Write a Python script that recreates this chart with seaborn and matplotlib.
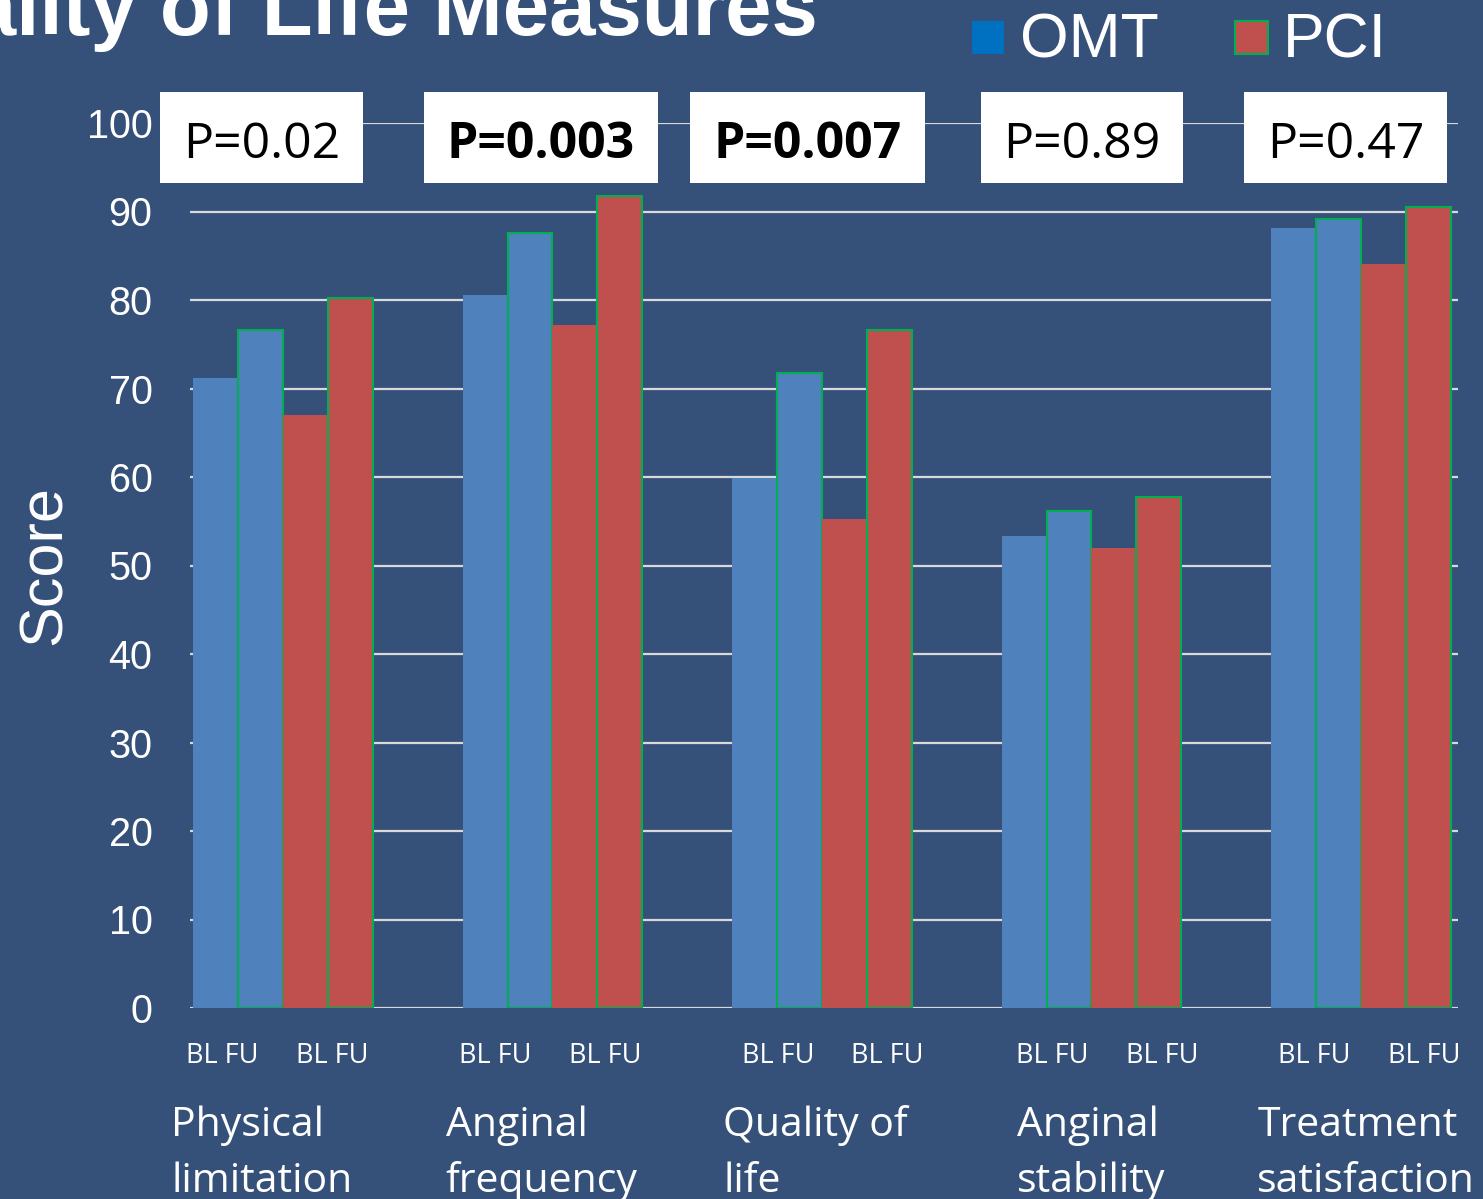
import matplotlib
matplotlib.use('Agg')
import matplotlib.pyplot as plt
from matplotlib.patches import Rectangle
import pandas as pd
import seaborn as sns

# data
measures = ["Physical\nlimitation", "Anginal\nfrequency", "Quality of\nlife",
            "Anginal\nstability", "Treatment\nsatisfaction"]
series = ["OMT BL", "OMT FU", "PCI BL", "PCI FU"]
omt_bl = [71.2, 80.6, 59.9, 53.3, 88.1]
omt_fu = [76.6, 87.6, 71.8, 56.2, 89.2]
pci_bl = [67.0, 77.2, 55.3, 52.0, 84.1]
pci_fu = [80.2, 91.8, 76.6, 57.7, 90.5]
p_values = ["P=0.02", "P=0.003", "P=0.007", "P=0.89", "P=0.47"]
p_bold = [False, True, True, False, False]
y_ticks = list(range(0, 101, 10))

# layout tweaks (offsets from category centre, data units)
label_shift = [-0.415, -0.396, -0.367, -0.278, -0.385]
pair_shift = [-0.226, -0.211, -0.163, -0.144, -0.174]
box_shift = [-0.080, -0.043, -0.054, -0.035, -0.057]

BG = "#35517A"
BLUE = "#4F81BD"
RED = "#C0504D"
GREEN = "#00B050"
SANS = ["Liberation Sans", "DejaVu Sans"]
BODY = ["Open Sans", "DejaVu Sans"]

sns.set_theme(style="white")
plt.rcParams['font.family'] = SANS

rows = []
for name, vals in zip(series, [omt_bl, omt_fu, pci_bl, pci_fu]):
    for m, v in zip(measures, vals):
        rows.append({"measure": m, "series": name, "score": v})
df = pd.DataFrame(rows)

fig = plt.figure(figsize=(14.83, 11.99), dpi=100, facecolor=BG)
ax = fig.add_axes([190 / 1483, 1 - 1008 / 1199, 1268 / 1483, 885 / 1199])
ax.set_facecolor(BG)

palette = {"OMT BL": BLUE, "OMT FU": BLUE, "PCI BL": RED, "PCI FU": RED}
sns.barplot(data=df, x="measure", y="score", hue="series", order=measures,
            hue_order=series, palette=palette, saturation=1, width=0.667,
            errorbar=None, legend=False, linewidth=0, ax=ax)

# follow-up bars carry the thin green outline
for name, cont in zip(series, ax.containers):
    if name.endswith("FU"):
        for bar in cont:
            bar.set_edgecolor(GREEN)
            bar.set_linewidth(1.5)

ax.set_ylim(0, 100)
ax.set_xlim(-0.345, 4.36)
ax.set_yticks(y_ticks)
ax.set_yticklabels([str(t) for t in y_ticks], color="white", fontsize=28.5)
ax.tick_params(axis="y", length=0, pad=27)
ax.set_xticks([])
ax.set_xlabel("")
ax.set_ylabel("Score", color="white", fontsize=44)
ax.yaxis.set_label_coords(-0.092, 0.5)
ax.yaxis.grid(True, color="#D9D9D9", linewidth=1.6)
ax.set_axisbelow(True)
sns.despine(ax=ax, left=True, bottom=True, top=True, right=True)

xt = ax.get_xaxis_transform()
for i, m in enumerate(measures):
    # BL FU labels under each pair
    for dx in (0.0, 0.407):
        ax.text(i + pair_shift[i] + dx, -0.0621, "BL FU", transform=xt, ha="center",
                va="baseline", color="white", fontsize=19.5, family=BODY)
    # category name, two lines (the slide cuts the second line off)
    first, second = m.split("\n")
    ax.text(i + label_shift[i], -0.1445, first, transform=xt, ha="left", va="baseline",
            color="white", fontsize=29.5, family=BODY)
    ax.text(i + label_shift[i], -0.2075, second, transform=xt, ha="left", va="baseline",
            color="white", fontsize=29.5, family=BODY)
    # p-value boxes
    w = 0.870 if p_bold[i] else 0.752
    cx = i + box_shift[i]
    ax.add_patch(Rectangle((cx - w / 2, 93.2), w, 10.3, facecolor="white",
                           edgecolor="none", clip_on=False, zorder=5))
    ax.text(cx, 96.05, p_values[i], ha="center", va="baseline", color="black",
            fontsize=36, family=BODY, fontweight="bold" if p_bold[i] else "normal",
            zorder=6, clip_on=False)

# title, cut off at the top of the slide
fig.text(818 / 1483, 1 - 35 / 1199, "Quality of Life Measures", ha="right",
         va="baseline", color="white", fontsize=60, fontweight="bold")

# legend
fig.add_artist(Rectangle((972 / 1483, 1 - 54 / 1199), 32 / 1483, 33 / 1199,
                         transform=fig.transFigure, facecolor="#0070C0", edgecolor="none"))
fig.text(1020 / 1483, 1 - 57 / 1199, "OMT", ha="left", va="baseline",
         color="white", fontsize=45)
fig.add_artist(Rectangle((1235 / 1483, 1 - 54 / 1199), 33 / 1483, 33 / 1199,
                         transform=fig.transFigure, facecolor=RED, edgecolor=GREEN,
                         linewidth=1.5))
fig.text(1283 / 1483, 1 - 57 / 1199, "PCI", ha="left", va="baseline",
         color="white", fontsize=45)

fig.savefig("out.png", dpi=100, facecolor=BG)
